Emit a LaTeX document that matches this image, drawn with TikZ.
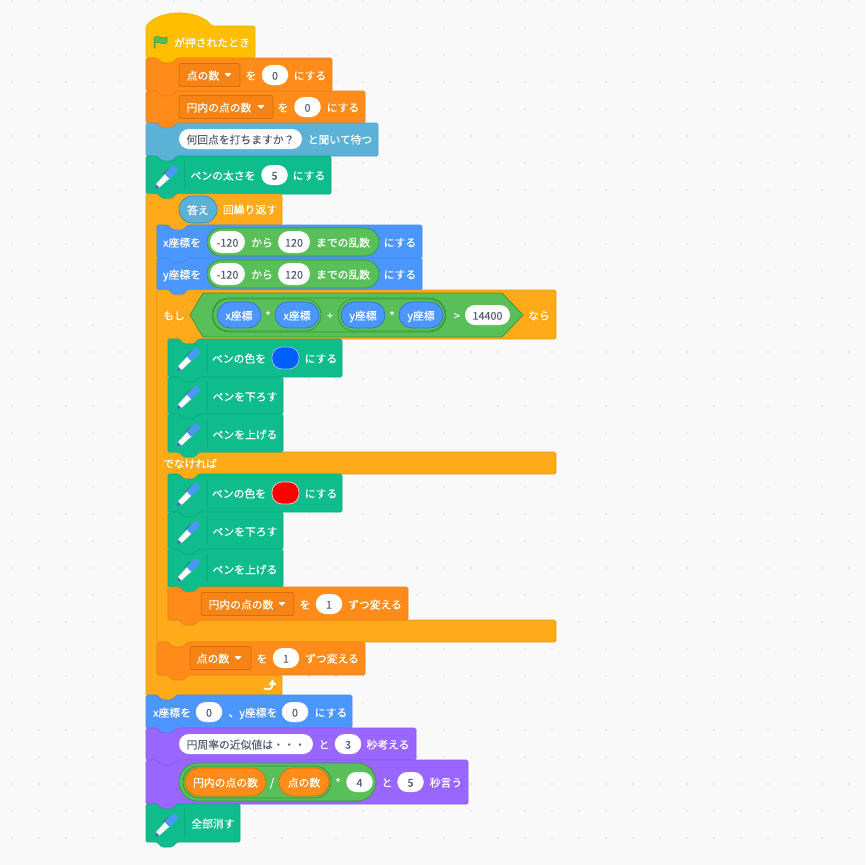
\documentclass[tikz,border=0pt]{standalone}
\usepackage{fontspec}
\setmainfont{Noto Sans CJK JP}[FakeBold=0.25]
\usetikzlibrary{arrows.meta}
\definecolor{bgc}{HTML}{F9F9F9}
\definecolor{dotc}{HTML}{ECECEC}
\definecolor{txtc}{HTML}{575E75}
\definecolor{hatc}{HTML}{FFBF00}
\definecolor{hatd}{HTML}{EDB200}
\definecolor{varc}{HTML}{FF8C1A}
\definecolor{vard}{HTML}{DB6E00}
\definecolor{varb}{HTML}{EC8018}
\definecolor{dropc}{HTML}{F58316}
\definecolor{askc}{HTML}{5CB1D6}
\definecolor{askd}{HTML}{53A3C6}
\definecolor{askr}{HTML}{2E8EB8}
\definecolor{penc}{HTML}{0FBD8C}
\definecolor{pend}{HTML}{0EAB7F}
\definecolor{ctrlc}{HTML}{FFAB19}
\definecolor{ctrld}{HTML}{E89B17}
\definecolor{movec}{HTML}{4C97FF}
\definecolor{moved}{HTML}{4689E8}
\definecolor{mover}{HTML}{3373CC}
\definecolor{lookc}{HTML}{9966FF}
\definecolor{lookd}{HTML}{8C5DE8}
\definecolor{opc}{HTML}{59C059}
\definecolor{opd}{HTML}{389438}
\definecolor{flagc}{HTML}{4CBF56}
\definecolor{flagd}{HTML}{45993D}
\definecolor{tipc}{HTML}{5A63B5}
\definecolor{barrelc}{HTML}{C8CCDA}
\definecolor{bluesw}{HTML}{0060FF}
\definecolor{bluesd}{HTML}{8FB8E8}
\definecolor{redsw}{HTML}{FF0000}
\definecolor{redsd}{HTML}{E8C4C4}
\tikzset{
x=1pt, y=-1pt, % one unit is one pixel of the picture, y runs downwards
every node/.style={inner sep=0pt, outer sep=0pt},
block/.style={line width=0.7pt, rounded corners=1.5pt},
hatblock/.style={block, fill=hatc, draw=hatd},
varblock/.style={block, fill=varc, draw=varb},
askblock/.style={block, fill=askc, draw=askd},
penblock/.style={block, fill=penc, draw=pend},
ctrlblock/.style={block, fill=ctrlc, draw=ctrld},
moveblock/.style={block, fill=movec, draw=moved},
lookblock/.style={block, fill=lookc, draw=lookd},
lbl/.style={text=white, font=\fontsize{10.8}{13}\selectfont, text height=10pt, text depth=0.6pt},
numbox/.style={lbl, text=txtc, fill=white, rounded corners=10pt, minimum height=20pt, minimum width=26.5pt},
dropbox/.style={fill=dropc, draw=vard, line width=0.7pt, rounded corners=2pt, minimum height=23pt},
oppill/.style={lbl, fill=opc, draw=opd, line width=0.7pt, minimum height=28pt, rounded corners=14pt},
moverep/.style={lbl, fill=movec, draw=mover, line width=0.7pt, minimum width=44pt, minimum height=26pt, rounded corners=13pt},
varrep/.style={lbl, fill=varc, draw=vard, line width=0.7pt, minimum height=28pt, rounded corners=14pt},
askrep/.style={lbl, fill=askc, draw=askr, line width=0.7pt, minimum width=38pt, minimum height=27pt, rounded corners=13.5pt},
swatch/.style={line width=0.8pt, minimum width=27pt, minimum height=22pt, rounded corners=10pt},
pendiv/.style={draw=pend, line width=0.6pt},
penicon/.pic={
  \begin{scope}[rotate=45]
    \fill[tipc] (-15.5,0) -- (-11.5,-2.4) -- (-11.5,2.4) -- cycle;
    \draw[draw=barrelc, fill=white, line width=0.3pt] (-11.5,-2.4) -- (2,-3) -- (2,3) -- (-11.5,2.4) -- cycle;
    \fill[movec, rounded corners=1pt] (1.5,-3.4) rectangle (14.5,3.4);
    \draw[draw=txtc, line width=0.5pt] (0,-4.4) -- (8,-4.4);
  \end{scope}
},
}
% tab under a block and notch in its top edge
\newcommand{\tabat}[2]{-- (#1+31,#2) -- (#1+26,#2+5) -- (#1+16,#2+5) -- (#1+11,#2)}
\newcommand{\notchat}[2]{-- (#1+11,#2) -- (#1+16,#2+5) -- (#1+26,#2+5) -- (#1+31,#2)}
\newcommand{\stackblock}[5]{\draw[#1] (#2,#3) \notchat{#2}{#3} -- (#4,#3) -- (#4,#5) \tabat{#2}{#5} -- (#2,#5) -- cycle;}
\newcommand{\droparrow}[2]{\fill[white, rounded corners=0.5pt] (#1-3.5,#2-1.8) -- (#1+3.5,#2-1.8) -- (#1,#2+2) -- cycle;}

\begin{document}
\begin{tikzpicture}
\useasboundingbox (0,0) rectangle (865,865);
\fill[bgc] (0,0) rectangle (865,865);
\foreach \i in {0,...,31}
  \foreach \j in {0,...,31}
    \fill[dotc] (11+27*\i,27*\j) rectangle (13+27*\i,2+27*\j);

% hat
\draw[hatblock] (146,26) .. controls (160,9) and (198,9) .. (212,26) -- (255,26) -- (255,58) \tabat{146}{58} -- (146,58) -- cycle;
\draw[fill=flagc, draw=flagd, line width=0.5pt] (155,37) .. controls (158,35) and (161,39) .. (167,37) -- (167,43) .. controls (161,45) and (158,41) .. (155,43) -- (155,48) -- (154,48) -- (154,37) -- cycle;
\node[lbl] (hattxt) at (212,42) {が押されたとき};

% set variables
\stackblock{varblock}{146}{58}{332}{91}
\node[dropbox, minimum width=61pt] (setdrop1) at (209.5,75) {};
\node[lbl] (setvar1) at (203,75) {点の数};
\droparrow{228}{75}
\node[lbl] (seto1) at (251,75) {を};
\node[numbox] (setnum1) at (275,75) {0};
\node[lbl] (setend1) at (310,75) {にする};

\stackblock{varblock}{146}{91}{365}{123}
\node[dropbox, minimum width=94pt] (setdrop2) at (226,107) {};
\node[lbl] (setvar2) at (219,107) {円内の点の数};
\droparrow{261}{107}
\node[lbl] (seto2) at (283,107) {を};
\node[numbox] (setnum2) at (307.5,107) {0};
\node[lbl] (setend2) at (343,107) {にする};

% ask
\stackblock{askblock}{146}{123}{378}{156}
\node[numbox, minimum width=123pt] (askq) at (240.5,139) {何回点を打ちますか？};
\node[lbl] (askend) at (340,139) {と聞いて待つ};

% pen size
\stackblock{penblock}{146}{156}{331}{194}
\pic at (166,177.5) {penicon};
\draw[pendiv] (184,161) -- (184,188);
\node[lbl] (sizetxt) at (223,175) {ペンの太さを};
\node[numbox] (sizenum) at (274.5,175) {5};
\node[lbl] (sizeend) at (309,175) {にする};

% repeat
\draw[ctrlblock] (146,194) \notchat{146}{194} -- (282,194) -- (282,225) \tabat{157}{225} -- (157,225) -- (157,675) -- (282,675) -- (282,695) \tabat{146}{695} -- (146,695) -- cycle;
\node[askrep] (answer) at (198,209.5) {答え};
\node[lbl] (reptxt) at (250,209) {回繰り返す};

% x and y random
\stackblock{moveblock}{157}{225}{422}{258}
\node[lbl] (xset) at (182,242) {x座標を};
\node[oppill, minimum width=172pt] (xrand) at (293,242) {};
\node[numbox, minimum width=35pt, minimum height=22pt, rounded corners=11pt] (xmin) at (227.5,242) {-120};
\node[lbl] (xfrom) at (262,242) {から};
\node[numbox, minimum width=32pt, minimum height=22pt, rounded corners=11pt] (xmax) at (294,242) {120};
\node[lbl] (xto) at (343,242) {までの乱数};
\node[lbl] (xend) at (400,242) {にする};

\stackblock{moveblock}{157}{258}{422}{290}
\node[lbl] (yset) at (182,274) {y座標を};
\node[oppill, minimum width=172pt] (yrand) at (293,274) {};
\node[numbox, minimum width=35pt, minimum height=22pt, rounded corners=11pt] (ymin) at (227.5,274) {-120};
\node[lbl] (yfrom) at (262,274) {から};
\node[numbox, minimum width=32pt, minimum height=22pt, rounded corners=11pt] (ymax) at (294,274) {120};
\node[lbl] (yto) at (343,274) {までの乱数};
\node[lbl] (yend) at (400,274) {にする};

% if else
\draw[ctrlblock] (157,290) \notchat{157}{290} -- (556,290) -- (556,339) \tabat{168}{339} -- (168,339) -- (168,452) -- (556,452) -- (556,474) \tabat{168}{474} -- (168,474) -- (168,620) -- (556,620) -- (556,642) \tabat{157}{642} -- (157,642) -- cycle;
\node[lbl] (iftxt) at (174,315) {もし};
\draw[fill=opc, draw=opd, line width=0.7pt] (190,315) -- (203,293) -- (502,293) -- (523,315) -- (502,337) -- (203,337) -- cycle;
\node[oppill, minimum width=234pt, minimum height=34pt, rounded corners=17pt] (sumpill) at (329,315) {};
\node[oppill, minimum width=108pt, minimum height=32pt, rounded corners=16pt] (xxpill) at (267,315) {};
\node[oppill, minimum width=107pt, minimum height=32pt, rounded corners=16pt] (yypill) at (391.5,315) {};
\node[moverep] (xrep1) at (239,315) {x座標};
\node[lbl] (xxstar) at (268,315) {*};
\node[moverep] (xrep2) at (297,315) {x座標};
\node[lbl] (plustxt) at (330,315) {+};
\node[moverep] (yrep1) at (363,315) {y座標};
\node[lbl] (yystar) at (392,315) {*};
\node[moverep] (yrep2) at (421,315) {y座標};
\node[lbl] (gttxt) at (457,315) {>};
\node[numbox, minimum width=45pt] (limitnum) at (487.5,315) {14400};
\node[lbl] (thentxt) at (539,315) {なら};

\stackblock{penblock}{168}{339}{342}{377}
\pic at (188,360) {penicon};
\draw[pendiv] (207,344) -- (207,372);
\node[lbl] (bluetxt) at (239,358) {ペンの色を};
\node[swatch, fill=bluesw, draw=bluesd] (blueswatch) at (285.5,358) {};
\node[lbl] (blueend) at (321,358) {にする};

\stackblock{penblock}{168}{377}{283}{414}
\pic at (188,398) {penicon};
\draw[pendiv] (207,382) -- (207,410);
\node[lbl] (downa) at (245,396) {ペンを下ろす};

\stackblock{penblock}{168}{414}{283}{452}
\pic at (188,435.5) {penicon};
\draw[pendiv] (207,419) -- (207,447);
\node[lbl] (upa) at (245,434) {ペンを上げる};

\node[lbl] (elsetxt) at (190,463) {でなければ};

\stackblock{penblock}{168}{474}{342}{512}
\pic at (188,495) {penicon};
\draw[pendiv] (207,479) -- (207,507);
\node[lbl] (redtxt) at (239,493) {ペンの色を};
\node[swatch, fill=redsw, draw=redsd] (redswatch) at (285.5,493) {};
\node[lbl] (redend) at (321,493) {にする};

\stackblock{penblock}{168}{512}{283}{549}
\pic at (188,533) {penicon};
\draw[pendiv] (207,517) -- (207,545);
\node[lbl] (downb) at (245,531) {ペンを下ろす};

\stackblock{penblock}{168}{549}{283}{587}
\pic at (188,570.5) {penicon};
\draw[pendiv] (207,554) -- (207,582);
\node[lbl] (upb) at (245,569) {ペンを上げる};

\stackblock{varblock}{168}{587}{408}{620}
\node[dropbox, minimum width=93pt] (chgdrop1) at (247.5,604) {};
\node[lbl] (chgvar1) at (241,604) {円内の点の数};
\droparrow{282}{604}
\node[lbl] (chgo1) at (305,604) {を};
\node[numbox] (chgnum1) at (329,604) {1};
\node[lbl] (chgend1) at (375,604) {ずつ変える};

\stackblock{varblock}{157}{642}{365}{675}
\node[dropbox, minimum width=61pt] (chgdrop2) at (220.5,658) {};
\node[lbl] (chgvar2) at (213,658) {点の数};
\droparrow{238}{658}
\node[lbl] (chgo2) at (262,658) {を};
\node[numbox] (chgnum2) at (286,658) {1};
\node[lbl] (chgend2) at (332,658) {ずつ変える};

% loop arrow
\draw[white, line width=1.7pt, line cap=round] (264.5,688.5) .. controls (269,690.5) and (272.5,689) .. (272.5,684);
\fill[white] (272.5,679.5) -- (276.5,685) -- (268.5,685) -- cycle;

% go to xy
\stackblock{moveblock}{146}{695}{352}{728}
\node[lbl] (gox) at (172,712) {x座標を};
\node[numbox] (gonum1) at (209,712) {0};
\node[lbl] (goy) at (253,712) {、y座標を};
\node[numbox] (gonum2) at (295,712) {0};
\node[lbl] (goend) at (331,712) {にする};

% think
\stackblock{lookblock}{146}{728}{416}{760}
\node[numbox, minimum width=134pt] (thinkq) at (246,744) {円周率の近似値は・・・};
\node[lbl] (thinko) at (324,744) {と};
\node[numbox] (thinknum) at (348,744) {3};
\node[lbl] (thinkend) at (388,744) {秒考える};

% say
\stackblock{lookblock}{146}{760}{468}{804}
\node[oppill, minimum width=197pt, minimum height=38pt, rounded corners=19pt] (mulpill) at (277.5,782) {};
\node[oppill, minimum width=148pt, minimum height=32pt, rounded corners=16pt] (divpill) at (257,782) {};
\node[varrep, minimum width=81pt] (invar) at (225.5,782) {円内の点の数};
\node[lbl] (divtxt) at (272,782) {/};
\node[varrep, minimum width=50pt] (allvar) at (304,782) {点の数};
\node[lbl] (multxt) at (338,782) {*};
\node[numbox] (mulnum) at (359.5,782) {4};
\node[lbl] (sayo) at (387,782) {と};
\node[numbox] (saynum) at (410.5,782) {5};
\node[lbl] (sayend) at (446,782) {秒言う};

% clear
\stackblock{penblock}{146}{804}{240}{842}
\pic at (166,825.5) {penicon};
\draw[pendiv] (184,809) -- (184,837);
\node[lbl] (cleartxt) at (213,823) {全部消す};
\end{tikzpicture}
\end{document}
